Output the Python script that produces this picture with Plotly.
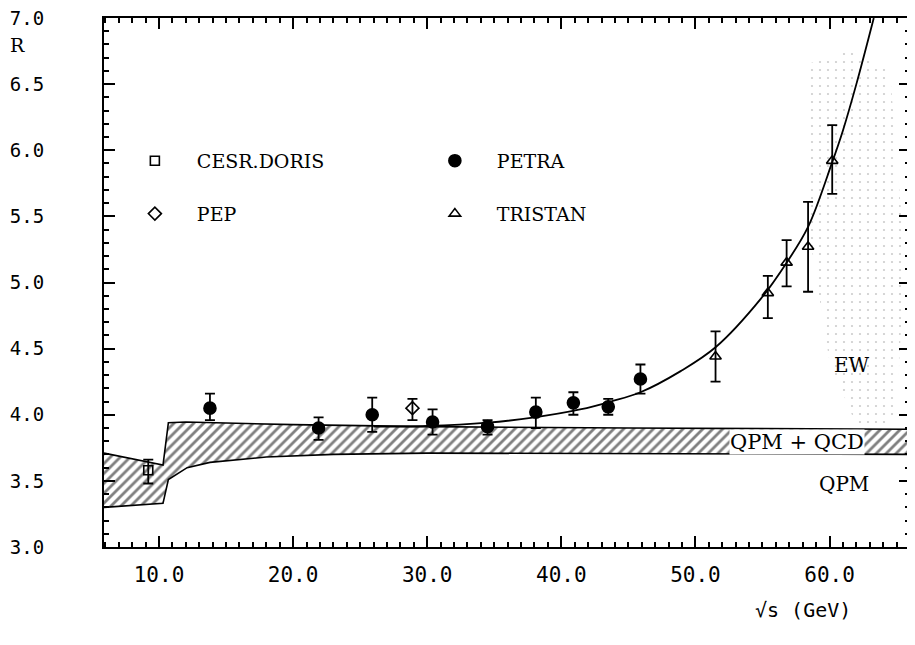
import plotly.graph_objects as go

# ---------------- data ----------------
cesr_E = [9.2]
cesr_R = [3.58]
cesr_up = [0.08]
cesr_dn = [0.10]

petra_E = [13.8, 21.9, 25.9, 30.4, 34.5, 38.1, 40.9, 43.5, 45.9]
petra_R = [4.05, 3.90, 4.00, 3.945, 3.91, 4.02, 4.09, 4.06, 4.27]
petra_up = [0.11, 0.08, 0.13, 0.095, 0.05, 0.11, 0.08, 0.06, 0.11]
petra_dn = [0.09, 0.09, 0.13, 0.095, 0.06, 0.12, 0.09, 0.06, 0.11]

pep_E = [28.9]
pep_R = [4.05]
pep_up = [0.07]
pep_dn = [0.09]

tristan_E = [51.5, 55.4, 56.8, 58.4, 60.2]
tristan_R = [4.44, 4.92, 5.15, 5.27, 5.92]
tristan_up = [0.19, 0.13, 0.17, 0.34, 0.27]
tristan_dn = [0.19, 0.19, 0.18, 0.34, 0.25]

# EW prediction curve
ew_E = [26.0, 30.0, 34.5, 38.0, 41.4, 43.7, 45.9, 48.9, 51.5, 54.9, 56.8, 58.4, 60.2, 61.0, 62.0, 63.3]
ew_R = [3.91, 3.915, 3.94, 3.98, 4.04, 4.10, 4.17, 4.33, 4.51, 4.88, 5.15, 5.42, 5.91, 6.15, 6.5, 7.0]

# QPM + QCD band
band_top_E = [5.9, 10.3, 10.7, 12.0, 20.0, 30.0, 45.0, 66.0]
band_top_R = [3.71, 3.62, 3.94, 3.945, 3.925, 3.91, 3.90, 3.89]
band_bot_E = [5.9, 10.3, 10.7, 12.1, 13.8, 18.0, 23.0, 30.0, 66.0]
band_bot_R = [3.30, 3.33, 3.51, 3.60, 3.64, 3.68, 3.70, 3.71, 3.70]

# EW stippled region outline
stip_E = [58.3, 61.5, 64.5, 65.6, 65.0, 62.5, 60.0, 58.6]
stip_R = [6.65, 6.75, 6.6, 5.2, 4.0, 3.8, 4.4, 5.3]

MONO = "DejaVu Sans Mono"
SERIF = "DejaVu Serif"
TICKC = "black"

fig = go.Figure()

# stipple
fig.add_trace(go.Scatter(
    x=stip_E, y=stip_R, fill="toself", mode="none", showlegend=False,
    fillcolor="rgba(0,0,0,0)",
    fillpattern=dict(shape=".", fgcolor="#9a9a9a", bgcolor="rgba(255,255,255,0)",
                     size=8, solidity=0.06),
    hoverinfo="skip"))

# band
fig.add_trace(go.Scatter(
    x=band_top_E + band_bot_E[::-1], y=band_top_R + band_bot_R[::-1],
    fill="toself", mode="lines", line=dict(color="black", width=1.6),
    fillcolor="white",
    fillpattern=dict(shape="/", fgcolor="black", bgcolor="white", size=7, solidity=0.4),
    showlegend=False, hoverinfo="skip"))

# EW curve
fig.add_trace(go.Scatter(
    x=ew_E, y=ew_R, mode="lines", line=dict(color="black", width=1.8, shape="spline"),
    showlegend=False, hoverinfo="skip"))

def series(name, E, R, up, dn, symbol, size, legend):
    fig.add_trace(go.Scatter(
        x=E, y=R, mode="markers", name=name, legend=legend,
        marker=dict(symbol=symbol, size=size, color="black",
                    line=dict(color="black", width=1.6)),
        error_y=dict(type="data", symmetric=False, array=up, arrayminus=dn,
                     color="black", thickness=1.8, width=5)))

series("CESR.DORIS", cesr_E, cesr_R, cesr_up, cesr_dn, "square-open", 9, "legend")
series("PETRA", petra_E, petra_R, petra_up, petra_dn, "circle", 12, "legend")
series("PEP", pep_E, pep_R, pep_up, pep_dn, "diamond-open", 10, "legend2")
series("TRISTAN", tristan_E, tristan_R, tristan_up, tristan_dn, "triangle-up-open", 10, "legend2")

axis_common = dict(showline=True, linecolor="black", linewidth=2, mirror="ticks",
                   ticks="inside", tickcolor=TICKC, tickwidth=2,
                   showgrid=False, zeroline=False, automargin=False,
                   ticklabeloverflow="allow", layer="above traces")

fig.update_xaxes(range=[5.9, 66.0], tickmode="linear", tick0=10, dtick=10, tickformat=".1f",
                 ticklen=11, ticklabelstandoff=8,
                 tickfont=dict(family=MONO, size=21, color="black"),
                 minor=dict(dtick=1, tick0=0, ticks="inside", ticklen=5,
                            tickcolor=TICKC, tickwidth=1.5, showgrid=False),
                 **axis_common)
fig.update_yaxes(range=[3.0, 7.0], tickmode="linear", tick0=3.0, dtick=0.5, tickformat=".1f",
                 ticklen=11, ticklabelstandoff=54,
                 tickfont=dict(family=MONO, size=19, color="black"),
                 minor=dict(dtick=0.1, tick0=0, ticks="inside", ticklen=5,
                            tickcolor=TICKC, tickwidth=1.5, showgrid=False),
                 **axis_common)

leg_common = dict(orientation="h", xanchor="left", yanchor="middle",
                  entrywidth=211, entrywidthmode="pixels", itemwidth=74,
                  bgcolor="rgba(0,0,0,0)", font=dict(family=SERIF, size=19, color="black"))
fig.update_layout(
    width=915, height=645,
    margin=dict(l=96, r=13, t=10, b=106),
    paper_bgcolor="white", plot_bgcolor="white",
    legend=dict(x=0.011, y=0.73, **leg_common),
    legend2=dict(x=0.011, y=0.63, **leg_common),
    annotations=[
        dict(text="R", x=-0.107, y=0.949, xref="paper", yref="paper", showarrow=False,
             xanchor="center", yanchor="middle",
             font=dict(family=SERIF, size=19, color="black")),
        dict(text="√s (GeV)", x=0.867, y=-0.119, xref="paper", yref="paper", showarrow=False,
             xanchor="center", yanchor="middle",
             font=dict(family=MONO, size=20, color="black")),
        dict(text="EW", x=61.7, y=4.38, xref="x", yref="y", showarrow=False,
             xanchor="center", yanchor="middle",
             font=dict(family=SERIF, size=20, color="black")),
        dict(text="QPM + QCD", x=57.6, y=3.795, xref="x", yref="y", showarrow=False,
             xanchor="center", yanchor="middle", bgcolor="white", borderpad=0,
             font=dict(family=SERIF, size=21, color="black")),
        dict(text="QPM", x=61.1, y=3.48, xref="x", yref="y", showarrow=False,
             xanchor="center", yanchor="middle",
             font=dict(family=SERIF, size=20, color="black")),
    ],
)

fig.write_html("out.html")
